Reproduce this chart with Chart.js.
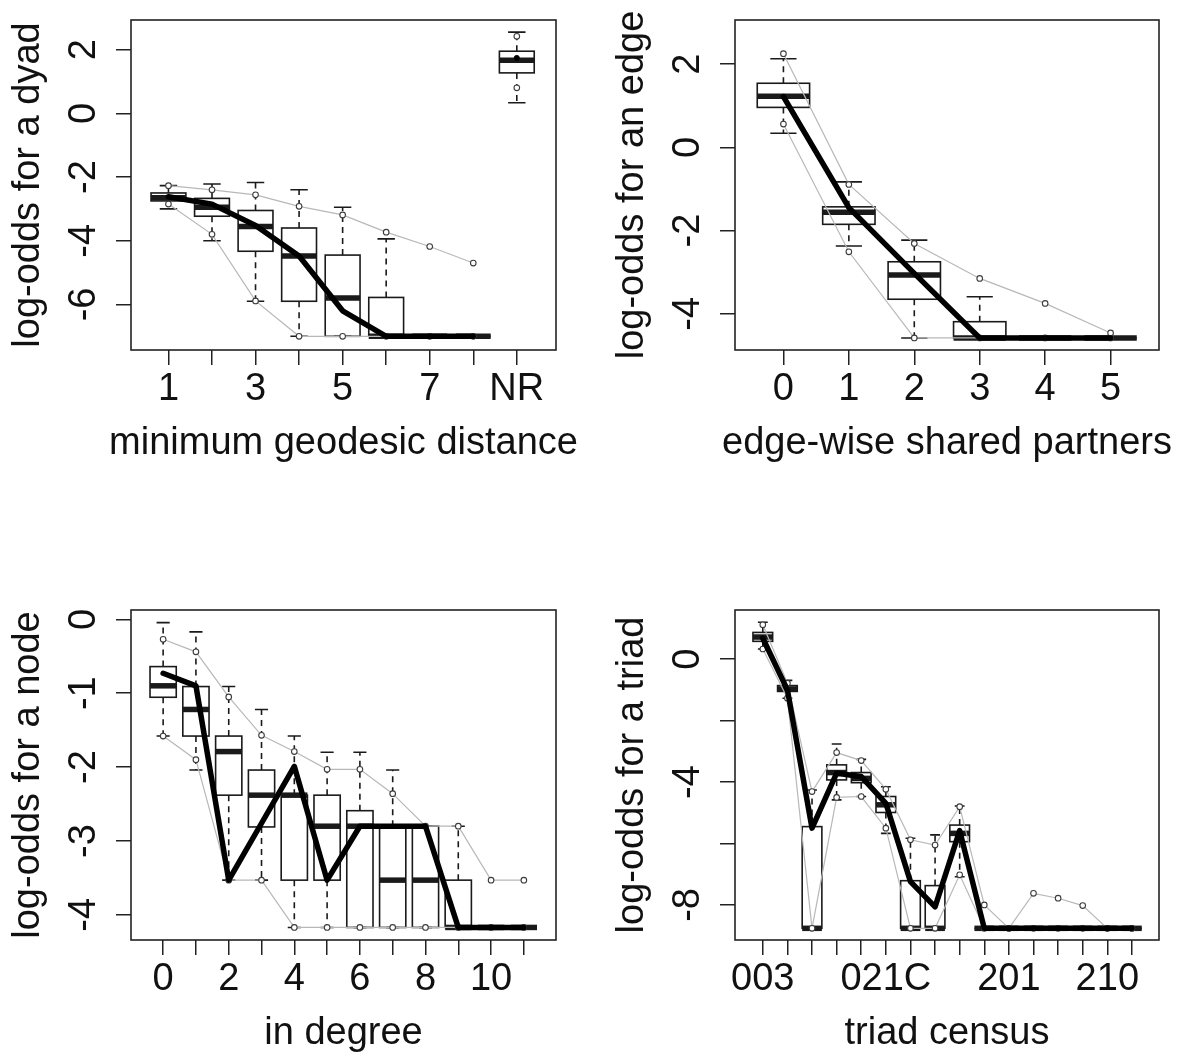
<!DOCTYPE html>
<html>
<head>
<meta charset="utf-8">
<script src="https://cdn.jsdelivr.net/npm/chart.js@4.4.1/dist/chart.umd.min.js"></script>
<style>
  html, body { margin: 0; padding: 0; background: #fff; }
  #wrap { position: relative; width: 1178px; height: 1055px; }
  canvas { position: absolute; }
</style>
</head>
<body>
<div id="wrap">
  <canvas id="geoChart" width="589" height="527" style="left:0;top:0"></canvas>
  <canvas id="espChart" width="589" height="527" style="left:589px;top:0"></canvas>
  <canvas id="degChart" width="589" height="527" style="left:0;top:528px"></canvas>
  <canvas id="triadChart" width="589" height="527" style="left:589px;top:528px"></canvas>
</div>
<script>
const FONT = { family: "'Liberation Sans', Arial, sans-serif", size: 38 };

// minimum geodesic distance (NR = not reachable)
const geoCats = ['1', '2', '3', '4', '5', '6', '7', '8', 'NR'];
const geoTickText = ['1', '', '3', '', '5', '', '7', '', 'NR'];
const geoYTicks = [-6, -4, -2, 0, 2];
const geoLo  = [-3.0, -4.0, -5.9, -7.0, -7.0, -7.0, -7.0, -7.0, 0.33];
const geoQ1  = [-2.75, -3.23, -4.33, -5.9, -7.0, -7.0, -7.0, -7.0, 1.27];
const geoMed = [-2.65, -2.95, -3.55, -4.48, -5.8, -7.0, -7.0, -7.0, 1.67];
const geoQ3  = [-2.5, -2.67, -3.05, -3.6, -4.45, -5.78, -7.0, -7.0, 1.95];
const geoHi  = [-2.27, -2.22, -2.17, -2.4, -2.95, -3.94, -7.0, -7.0, 2.55];
const geoUpper = [-2.27, -2.4, -2.56, -2.92, -3.19, -3.73, -4.18, -4.7, 2.42];
const geoLower = [-2.85, -3.8, -5.89, -7.0, -7.0, -7.0, -7.0, -7.0, 0.8];
const geoObs   = [-2.62, -2.85, -3.52, -4.48, -6.2, -7.0, -7.0, -7.0, 1.74];

// edge-wise shared partners
const espCats = ['0', '1', '2', '3', '4', '5'];
const espTickText = ['0', '1', '2', '3', '4', '5'];
const espYTicks = [-4, -2, 0, 2];
const espLo  = [0.34, -2.37, -4.58, -4.58, -4.58, -4.58];
const espQ1  = [0.96, -1.85, -3.65, -4.58, -4.58, -4.58];
const espMed = [1.23, -1.56, -3.07, -4.58, -4.58, -4.58];
const espQ3  = [1.54, -1.43, -2.75, -4.19, -4.58, -4.58];
const espHi  = [2.13, -0.83, -2.23, -3.59, -4.58, -4.58];
const espUpper = [2.25, -0.89, -2.31, -3.15, -3.75, -4.46];
const espLower = [0.56, -2.51, -4.58, -4.58, -4.58, -4.58];
const espObs   = [1.22, -1.45, -3.03, -4.58, -4.58, -4.58];

// in degree
const degCats = ['0', '1', '2', '3', '4', '5', '6', '7', '8', '9', '10', '11'];
const degTickText = ['0', '', '2', '', '4', '', '6', '', '8', '', '10', ''];
const degYTicks = [-4, -3, -2, -1, 0];
const degLo  = [-1.58, -2.04, -3.53, -3.53, -4.17, -4.17, -4.17, -4.17, -4.17, -4.17, -4.17, -4.17];
const degQ1  = [-1.055, -1.58, -2.38, -2.81, -3.53, -3.53, -4.17, -4.17, -4.17, -4.17, -4.17, -4.17];
const degMed = [-0.9, -1.22, -1.79, -2.38, -2.38, -2.8, -2.8, -3.53, -3.53, -4.17, -4.17, -4.17];
const degQ3  = [-0.64, -0.91, -1.58, -2.04, -2.38, -2.38, -2.59, -2.8, -2.8, -3.53, -4.17, -4.17];
const degHi  = [-0.045, -0.17, -0.91, -1.22, -1.58, -1.8, -1.8, -2.04, -2.8, -2.8, -4.17, -4.17];
const degUpper = [-0.27, -0.44, -1.05, -1.57, -1.79, -2.03, -2.03, -2.36, -2.8, -2.8, -3.53, -3.53];
const degLower = [-1.58, -1.9, -3.53, -3.53, -4.17, -4.17, -4.17, -4.17, -4.17, -4.17, -4.17, -4.17];
const degObs   = [-0.73, -0.9, -3.53, -2.76, -1.99, -3.53, -2.8, -2.8, -2.8, -4.17, -4.17, -4.17];

// triad census
const triadCats = ['003', '012', '102', '021D', '021U', '021C', '111D', '111U',
                   '030T', '030C', '201', '120D', '120U', '120C', '210', '300'];
const triadTickText = ['003', '', '', '', '', '021C', '', '', '', '', '201', '', '', '', '210', ''];
const triadYTicks = [-8, -6, -4, -2, 0];
const triadYText = ['-8', '', '-4', '', '0'];
const triadLo  = [0.33, -1.27, -8.76, -4.58, -4.47, -5.67, -8.76, -8.76, -7.08, -8.76, -8.76, -8.76, -8.76, -8.76, -8.76, -8.76];
const triadQ1  = [0.58, -1.05, -8.76, -3.93, -4.02, -4.99, -8.76, -8.76, -5.94, -8.76, -8.76, -8.76, -8.76, -8.76, -8.76, -8.76];
const triadMed = [0.72, -0.97, -8.76, -3.69, -3.88, -4.74, -8.76, -8.76, -5.67, -8.76, -8.76, -8.76, -8.76, -8.76, -8.76, -8.76];
const triadQ3  = [0.87, -0.86, -5.45, -3.44, -3.69, -4.47, -7.21, -7.37, -5.4, -8.76, -8.76, -8.76, -8.76, -8.76, -8.76, -8.76];
const triadHi  = [1.2, -0.69, -4.26, -2.76, -3.26, -4.15, -5.83, -5.72, -4.78, -8.76, -8.76, -8.76, -8.76, -8.76, -8.76, -8.76];
const triadUpper = [1.12, -0.78, -4.31, -3.04, -3.3, -4.23, -5.88, -6.05, -4.8, -8.0, -8.76, -7.62, -7.78, -8.02, -8.76, -8.76];
const triadLower = [0.33, -1.27, -8.76, -4.5, -4.47, -5.5, -8.76, -8.76, -7.02, -8.76, -8.76, -8.76, -8.76, -8.76, -8.76, -8.76];
const triadObs   = [0.68, -1.0, -5.5, -3.71, -3.82, -4.69, -7.24, -8.06, -5.58, -8.76, -8.76, -8.76, -8.76, -8.76, -8.76, -8.76];

// pair x positions with values, skipping the NR column when asked
function pts(pos, vals, from, to) {
    return vals.slice(from, to).map((v, i) => ({ x: pos[from + i], y: v }));
}

// boxplots, frame and x title, drawn with the chart's own scales
function boxPlugin(stats) {
    return {
        id: 'gofBoxes',
        beforeDatasetsDraw(chart) {
            const { ctx, scales: { x, y } } = chart;
            ctx.save();
            ctx.strokeStyle = '#1a1a1a';
            stats.pos.forEach((p, i) => {
                const xl = x.getPixelForValue(p - 0.4);
                const xr = x.getPixelForValue(p + 0.4);
                const sl = x.getPixelForValue(p - 0.2);
                const sr = x.getPixelForValue(p + 0.2);
                const xc = x.getPixelForValue(p);
                const yLo = y.getPixelForValue(stats.lo[i]);
                const yQ1 = y.getPixelForValue(stats.q1[i]);
                const yMed = y.getPixelForValue(stats.med[i]);
                const yQ3 = y.getPixelForValue(stats.q3[i]);
                const yHi = y.getPixelForValue(stats.hi[i]);

                // dashed whiskers
                ctx.lineWidth = 1.6;
                ctx.setLineDash([6, 5]);
                ctx.beginPath();
                ctx.moveTo(xc, yQ3); ctx.lineTo(xc, yHi);
                ctx.moveTo(xc, yQ1); ctx.lineTo(xc, yLo);
                ctx.stroke();
                ctx.setLineDash([]);

                // staples
                ctx.beginPath();
                ctx.moveTo(sl, yHi); ctx.lineTo(sr, yHi);
                ctx.moveTo(sl, yLo); ctx.lineTo(sr, yLo);
                ctx.stroke();

                ctx.strokeRect(xl, yQ3, xr - xl, yQ1 - yQ3);

                // median
                ctx.lineWidth = 5.5;
                ctx.beginPath();
                ctx.moveTo(xl, yMed); ctx.lineTo(xr, yMed);
                ctx.stroke();
            });
            ctx.restore();
        },
        afterDraw(chart) {
            const { ctx, chartArea: a, scales: { x } } = chart;
            ctx.save();
            ctx.strokeStyle = '#222';
            ctx.lineWidth = 1.6;
            ctx.strokeRect(a.left, a.top, a.right - a.left, a.bottom - a.top);

            // x title: centred under the plot, may run wider than it (no squeezing)
            ctx.fillStyle = '#111';
            ctx.font = FONT.size + 'px ' + FONT.family;
            ctx.textAlign = 'center';
            ctx.textBaseline = 'middle';
            ctx.fillText(stats.xTitle, (x.left + x.right) / 2, a.bottom + 93.5);
            ctx.restore();
        }
    };
}

function greyLine(data) {
    return {
        data: data,
        showLine: true,
        borderColor: '#b8b8b8',
        borderWidth: 1.2,
        pointRadius: 2.8,
        pointBackgroundColor: '#fff',
        pointBorderColor: '#3c3c3c',
        pointBorderWidth: 1.1
    };
}

function obsLine(data) {
    return {
        data: data,
        showLine: true,
        borderColor: '#000',
        borderWidth: 5.5,
        borderJoinStyle: 'round',
        borderCapStyle: 'round',
        pointRadius: 0
    };
}

// cfg: canvas id, geometry in canvas pixels, axis ranges, ticks and data
function renderGof(cfg) {
    const ctx = document.getElementById(cfg.id).getContext('2d');
    const pos = cfg.cats.map((c, i) => i + cfg.first);
    const n = cfg.lineCount || pos.length;
    const xAxisH = 527 - cfg.bottom;

    let datasets = [
        obsLine(pts(pos, cfg.obs, 0, n)),
        greyLine(pts(pos, cfg.upper, 0, n)),
        greyLine(pts(pos, cfg.lower, 0, n))
    ];
    if (n < pos.length) {
        // NR column: separate points, not joined to the curves
        datasets.push({ data: pts(pos, cfg.obs, n), pointRadius: 2.5, pointBackgroundColor: '#000', pointBorderColor: '#000' });
        datasets.push(Object.assign(greyLine(pts(pos, cfg.upper, n)), { showLine: false }));
        datasets.push(Object.assign(greyLine(pts(pos, cfg.lower, n)), { showLine: false }));
    }

    const yText = cfg.yText || cfg.yTicks.map(String);

    new Chart(ctx, {
        type: 'scatter',
        data: { datasets: datasets },
        options: {
            responsive: false,
            animation: false,
            devicePixelRatio: 1,
            layout: { padding: { left: cfg.padLeft, right: cfg.padRight, top: cfg.top, bottom: 0 } },
            plugins: { legend: { display: false }, tooltip: { enabled: false } },
            scales: {
                x: {
                    type: 'linear',
                    min: cfg.xMin,
                    max: cfg.xMax,
                    afterBuildTicks: s => { s.ticks = pos.map(v => ({ value: v })); },
                    afterFit: s => { s.height = xAxisH; s.paddingLeft = 0; s.paddingRight = 0; },
                    ticks: {
                        autoSkip: false, maxRotation: 0, minRotation: 0, padding: 1.7,
                        color: '#111', font: FONT,
                        callback: (v, i) => cfg.tickText[i]
                    },
                    grid: { drawOnChartArea: false, drawTicks: true, tickLength: 15, color: '#222', lineWidth: 1.5 },
                    border: { display: false },
                    title: { display: false }
                },
                y: {
                    type: 'linear',
                    min: cfg.yMin,
                    max: cfg.yMax,
                    afterBuildTicks: s => { s.ticks = cfg.yTicks.map(v => ({ value: v })); },
                    afterFit: s => { s.width = 131; s.paddingTop = 0; s.paddingBottom = 0; },
                    ticks: {
                        autoSkip: false, minRotation: 90, maxRotation: 90, crossAlign: 'center', padding: 15,
                        color: '#111', font: FONT,
                        callback: (v, i) => yText[i]
                    },
                    grid: { drawOnChartArea: false, drawTicks: true, tickLength: 15, color: '#222', lineWidth: 1.5 },
                    border: { display: false },
                    title: { display: true, text: cfg.yTitle, color: '#111', font: FONT, padding: { top: 5.4, bottom: 0 } }
                }
            }
        },
        plugins: [boxPlugin({ pos: pos, lo: cfg.lo, q1: cfg.q1, med: cfg.med, q3: cfg.q3, hi: cfg.hi, xTitle: cfg.xTitle })]
    });
}

renderGof({
    id: 'geoChart', padLeft: 0, padRight: 33, top: 20, bottom: 350,
    xMin: 0.14, xMax: 9.9, yMin: -7.43, yMax: 2.93, first: 1, lineCount: 8,
    cats: geoCats, tickText: geoTickText, yTicks: geoYTicks,
    lo: geoLo, q1: geoQ1, med: geoMed, q3: geoQ3, hi: geoHi,
    upper: geoUpper, lower: geoLower, obs: geoObs,
    xTitle: 'minimum geodesic distance', yTitle: 'log-odds for a dyad'
});

renderGof({
    id: 'espChart', padLeft: 15, padRight: 19, top: 20, bottom: 350,
    xMin: -0.74, xMax: 5.74, yMin: -4.87, yMax: 3.06, first: 0,
    cats: espCats, tickText: espTickText, yTicks: espYTicks,
    lo: espLo, q1: espQ1, med: espMed, q3: espQ3, hi: espHi,
    upper: espUpper, lower: espLower, obs: espObs,
    xTitle: 'edge-wise shared partners', yTitle: 'log-odds for an edge'
});

renderGof({
    id: 'degChart', padLeft: 0, padRight: 33, top: 82, bottom: 412,
    xMin: -0.98, xMax: 11.98, yMin: -4.34, yMax: 0.126, first: 0,
    cats: degCats, tickText: degTickText, yTicks: degYTicks,
    lo: degLo, q1: degQ1, med: degMed, q3: degQ3, hi: degHi,
    upper: degUpper, lower: degLower, obs: degObs,
    xTitle: 'in degree', yTitle: 'log-odds for a node'
});

renderGof({
    id: 'triadChart', padLeft: 15, padRight: 19, top: 82, bottom: 412,
    xMin: -0.13, xMax: 17.1, yMin: -9.14, yMax: 1.6, first: 1,
    cats: triadCats, tickText: triadTickText, yTicks: triadYTicks, yText: triadYText,
    lo: triadLo, q1: triadQ1, med: triadMed, q3: triadQ3, hi: triadHi,
    upper: triadUpper, lower: triadLower, obs: triadObs,
    xTitle: 'triad census', yTitle: 'log-odds for a triad'
});
</script>
</body>
</html>
